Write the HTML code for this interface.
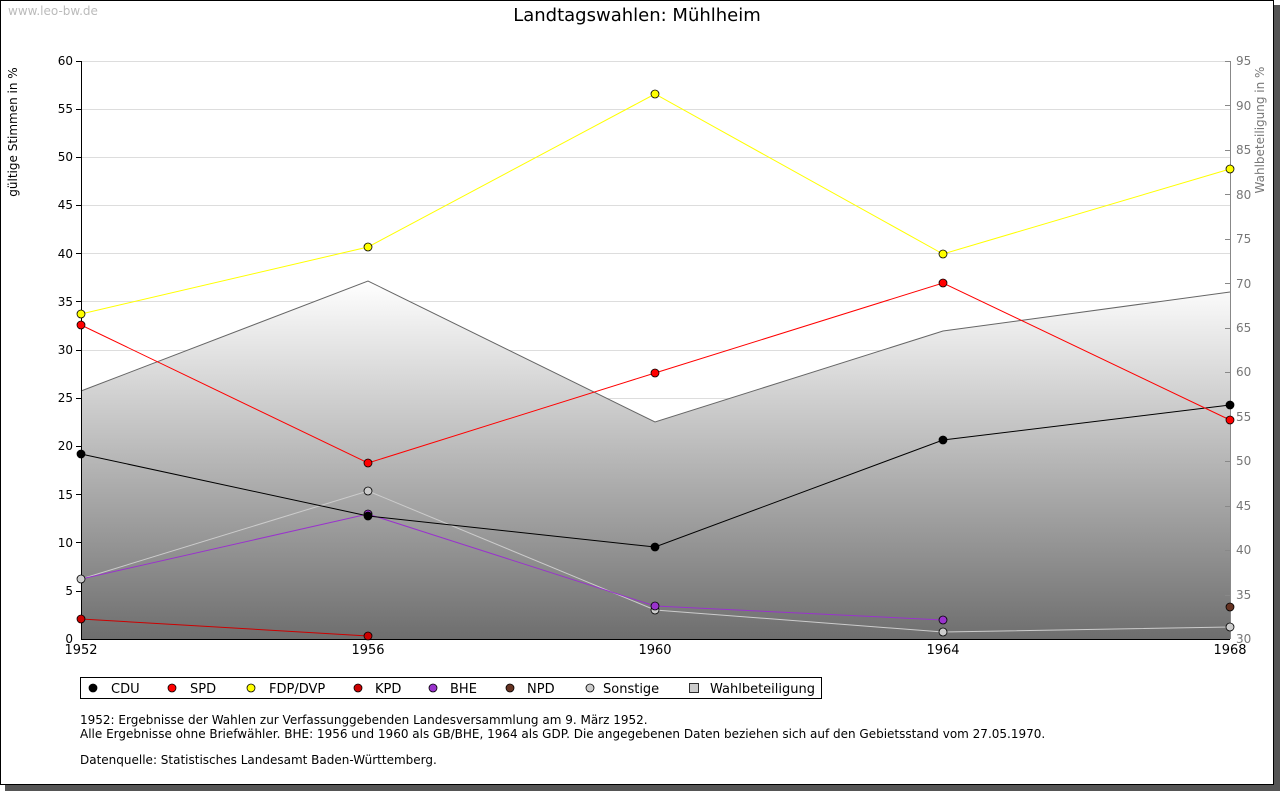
<!DOCTYPE html>
<html><head><meta charset="utf-8"><style>
body{margin:0;background:#fff;}
svg{display:block;font-family:"DejaVu Sans","Liberation Sans",sans-serif;}
</style></head><body>
<svg width="1280" height="791" viewBox="0 0 1280 791" xmlns="http://www.w3.org/2000/svg">
<defs>
<linearGradient id="g" x1="0" y1="281" x2="0" y2="639" gradientUnits="userSpaceOnUse">
<stop offset="0" stop-color="#ffffff"/><stop offset="1" stop-color="#6e6e6e"/>
</linearGradient>
</defs>
<rect x="5" y="5" width="1275" height="786" fill="#555"/>
<rect x="0.5" y="0.5" width="1273" height="784" fill="#fff" stroke="#000"/>
<text x="8" y="15" font-size="12" fill="#bbb">www.leo-bw.de</text>
<text x="637" y="21" font-size="18" text-anchor="middle" fill="#000">Landtagswahlen: Mühlheim</text>
<g stroke="#ddd" stroke-width="1">
<line x1="81" x2="1230" y1="61.5" y2="61.5"/><line x1="81" x2="1230" y1="109.5" y2="109.5"/>
<line x1="81" x2="1230" y1="157.5" y2="157.5"/><line x1="81" x2="1230" y1="205.5" y2="205.5"/>
<line x1="81" x2="1230" y1="253.5" y2="253.5"/><line x1="81" x2="1230" y1="301.5" y2="301.5"/>
<line x1="81" x2="1230" y1="350.5" y2="350.5"/><line x1="81" x2="1230" y1="398.5" y2="398.5"/>
<line x1="81" x2="1230" y1="446.5" y2="446.5"/><line x1="81" x2="1230" y1="494.5" y2="494.5"/>
<line x1="81" x2="1230" y1="542.5" y2="542.5"/><line x1="81" x2="1230" y1="591.5" y2="591.5"/>
</g>
<polygon points="81,639 81,391 368,281 655,422 943,331 1230,292 1230,639" fill="url(#g)"/>
<polyline points="81,391 368,281 655,422 943,331 1230,292" fill="none" stroke="#666"/>
<g stroke="#000" fill="none">
<line x1="81.5" y1="61" x2="81.5" y2="639"/>
<line x1="81" y1="639.5" x2="1230" y2="639.5"/>
<line x1="1230.5" y1="61" x2="1230.5" y2="639" stroke="#888"/>
</g>
<g font-size="12" text-anchor="end" fill="#000">
<text x="73" y="65">60</text><text x="73" y="113">55</text><text x="73" y="161">50</text><text x="73" y="209">45</text>
<text x="73" y="258">40</text><text x="73" y="306">35</text><text x="73" y="354">30</text><text x="73" y="402">25</text>
<text x="73" y="450">20</text><text x="73" y="499">15</text><text x="73" y="547">10</text><text x="73" y="595">5</text><text x="73" y="643">0</text>
</g>
<g stroke="#000"><line x1="76" x2="81" y1="61.5" y2="61.5"/><line x1="76" x2="81" y1="109.5" y2="109.5"/><line x1="76" x2="81" y1="157.5" y2="157.5"/><line x1="76" x2="81" y1="205.5" y2="205.5"/><line x1="76" x2="81" y1="253.5" y2="253.5"/><line x1="76" x2="81" y1="301.5" y2="301.5"/><line x1="76" x2="81" y1="350.5" y2="350.5"/><line x1="76" x2="81" y1="398.5" y2="398.5"/><line x1="76" x2="81" y1="446.5" y2="446.5"/><line x1="76" x2="81" y1="494.5" y2="494.5"/><line x1="76" x2="81" y1="542.5" y2="542.5"/><line x1="76" x2="81" y1="591.5" y2="591.5"/></g>
<g font-size="12" fill="#777">
<text x="1236" y="65">95</text><text x="1236" y="110">90</text><text x="1236" y="154">85</text><text x="1236" y="199">80</text>
<text x="1236" y="243">75</text><text x="1236" y="288">70</text><text x="1236" y="332">65</text><text x="1236" y="376">60</text>
<text x="1236" y="421">55</text><text x="1236" y="465">50</text><text x="1236" y="510">45</text><text x="1236" y="554">40</text>
<text x="1236" y="599">35</text><text x="1236" y="643">30</text>
</g>
<g stroke="#888"><line x1="1225" x2="1230" y1="61.5" y2="61.5"/><line x1="1225" x2="1230" y1="105.5" y2="105.5"/><line x1="1225" x2="1230" y1="150.5" y2="150.5"/><line x1="1225" x2="1230" y1="194.5" y2="194.5"/><line x1="1225" x2="1230" y1="239.5" y2="239.5"/><line x1="1225" x2="1230" y1="283.5" y2="283.5"/><line x1="1225" x2="1230" y1="328.5" y2="328.5"/><line x1="1225" x2="1230" y1="372.5" y2="372.5"/><line x1="1225" x2="1230" y1="417.5" y2="417.5"/><line x1="1225" x2="1230" y1="461.5" y2="461.5"/><line x1="1225" x2="1230" y1="506.5" y2="506.5"/><line x1="1225" x2="1230" y1="550.5" y2="550.5"/><line x1="1225" x2="1230" y1="595.5" y2="595.5"/></g>
<text transform="translate(17,132) rotate(-90)" font-size="12" text-anchor="middle">gültige Stimmen in %</text>
<text transform="translate(1264,130) rotate(-90)" font-size="12" text-anchor="middle" fill="#777">Wahlbeteiligung in %</text>
<g font-size="13" text-anchor="middle">
<text x="81" y="654">1952</text><text x="368" y="654">1956</text><text x="655" y="654">1960</text><text x="943" y="654">1964</text><text x="1230" y="654">1968</text>
</g>
<g stroke-width="1" fill="none">
<polyline points="81,579 368,491 655,610 943,632 1230,627" stroke="#ccc"/>
<polyline points="81,579 368,514 655,606 943,620" stroke="#9933cc"/>
<polyline points="81,619 368,636" stroke="#cc0000"/>
<polyline points="81,454 368,516 655,547 943,440 1230,405" stroke="#000"/>
<polyline points="81,325 368,463 655,373 943,283 1230,420" stroke="#ff0000"/>
<polyline points="81,314 368,247 655,94 943,254 1230,169" stroke="#ffff00"/>
</g>
<g stroke="#000" stroke-width="0.8">
<g fill="#ccc"><circle cx="81" cy="579" r="4"/><circle cx="368" cy="491" r="4"/><circle cx="655" cy="610" r="4"/><circle cx="943" cy="632" r="4"/><circle cx="1230" cy="627" r="4"/></g>
<g fill="#9933cc"><circle cx="368" cy="514" r="4"/><circle cx="655" cy="606" r="4"/><circle cx="943" cy="620" r="4"/></g>
<g fill="#cc0000"><circle cx="81" cy="619" r="4"/><circle cx="368" cy="636" r="4"/></g>
<g fill="#000"><circle cx="81" cy="454" r="4"/><circle cx="368" cy="516" r="4"/><circle cx="655" cy="547" r="4"/><circle cx="943" cy="440" r="4"/><circle cx="1230" cy="405" r="4"/></g>
<g fill="#ff0000"><circle cx="81" cy="325" r="4"/><circle cx="368" cy="463" r="4"/><circle cx="655" cy="373" r="4"/><circle cx="943" cy="283" r="4"/><circle cx="1230" cy="420" r="4"/></g>
<g fill="#ffff00"><circle cx="81" cy="314" r="4"/><circle cx="368" cy="247" r="4"/><circle cx="655" cy="94" r="4"/><circle cx="943" cy="254" r="4"/><circle cx="1230" cy="169" r="4"/></g>
<circle cx="1230" cy="607" r="4" fill="#663322"/>
</g>
<rect x="80.5" y="677.5" width="741" height="21" fill="#fff" stroke="#000"/>
<g stroke="#000" stroke-width="0.8">
<circle cx="93" cy="688" r="4" fill="#000"/><circle cx="172" cy="688" r="4" fill="#ff0000"/><circle cx="251" cy="688" r="4" fill="#ffff00"/>
<circle cx="358" cy="688" r="4" fill="#cc0000"/><circle cx="433" cy="688" r="4" fill="#9933cc"/><circle cx="510" cy="688" r="4" fill="#663322"/>
<circle cx="590" cy="688" r="4" fill="#ccc"/><rect x="689.5" y="683.5" width="9" height="9" fill="#ccc"/>
</g>
<g font-size="13">
<text x="111" y="693">CDU</text><text x="190" y="693">SPD</text><text x="269" y="693">FDP/DVP</text><text x="375" y="693">KPD</text>
<text x="450" y="693">BHE</text><text x="527" y="693">NPD</text><text x="603" y="693">Sonstige</text><text x="710" y="693">Wahlbeteiligung</text>
</g>
<g font-size="12">
<text x="80" y="724">1952: Ergebnisse der Wahlen zur Verfassunggebenden Landesversammlung am 9. März 1952.</text>
<text x="80" y="738">Alle Ergebnisse ohne Briefwähler. BHE: 1956 und 1960 als GB/BHE, 1964 als GDP. Die angegebenen Daten beziehen sich auf den Gebietsstand vom 27.05.1970.</text>
<text x="80" y="764">Datenquelle: Statistisches Landesamt Baden-Württemberg.</text>
</g>
</svg>
</body></html>
